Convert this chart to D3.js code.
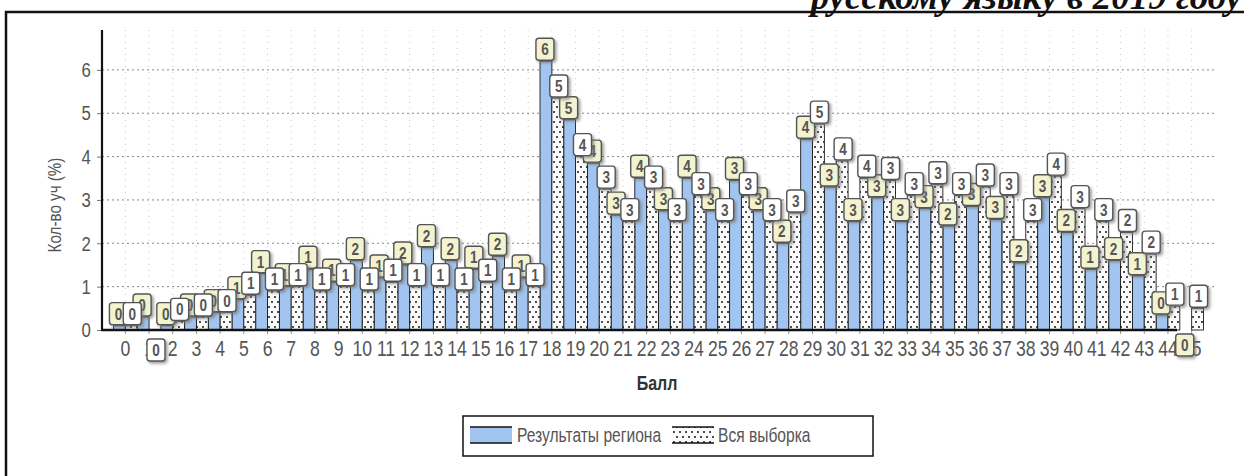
<!DOCTYPE html>
<html><head><meta charset="utf-8">
<script src="https://cdn.jsdelivr.net/npm/d3@7/dist/d3.min.js"></script>
<style>
html,body{margin:0;padding:0;background:#fff;overflow:hidden}
svg{display:block}
text{font-family:"Liberation Sans",Arial,sans-serif}
</style></head><body>
<svg id="chart" width="1244" height="476"></svg>
<script>
// ---- data ----
const categories = [0,1,2,3,4,5,6,7,8,9,10,11,12,13,14,15,16,17,18,19,20,21,22,23,24,25,26,27,28,29,30,31,32,33,34,35,36,37,38,39,40,41,42,43,44,45];
const regionValues = [0.1,0.3,0.1,0.3,0.4,0.7,1.3,1.0,1.4,1.1,1.6,1.2,1.5,1.9,1.6,1.4,1.7,1.2,
  6.2,4.85,3.85,2.65,3.5,2.75,3.5,2.75,3.45,2.75,2.0,4.4,3.3,2.5,3.05,2.5,2.8,2.4,2.85,2.55,1.55,3.05,2.25,1.4,1.6,1.25,0.35,0];
const sampleValues = [0.1,0,0.2,0.3,0.4,0.8,0.9,1.0,0.9,1.0,0.9,1.1,1.0,1.0,0.9,1.1,0.9,1.0,
  5.35,4.0,3.25,2.5,3.25,2.5,3.1,2.5,3.1,2.5,2.7,4.75,3.9,3.5,3.45,3.1,3.35,3.1,3.3,3.1,2.5,3.55,2.8,2.5,2.25,1.75,0.55,0.5];
const seriesNames = ["Результаты региона","Вся выборка"];
const yTicks = [0,1,2,3,4,5,6];
const xTitle = "Балл";
const yTitle = "Кол-во уч (%)";
const headerText = "русскому языку в 2019 году";

// ---- setup ----
const svg = d3.select("#chart");
const defs = svg.append("defs");
const pat = defs.append("pattern").attr("id","dots").attr("patternUnits","userSpaceOnUse")
  .attr("width",6).attr("height",10);
pat.append("rect").attr("width",6).attr("height",10).attr("fill","#fbfbfb");
pat.append("circle").attr("cx",2).attr("cy",2).attr("r",1).attr("fill","#111");
pat.append("circle").attr("cx",5).attr("cy",7).attr("r",1).attr("fill","#111");
const f = defs.append("filter").attr("id","shadow").attr("x","-30%").attr("y","-30%").attr("width","170%").attr("height","170%");
f.append("feDropShadow").attr("dx",2).attr("dy",2).attr("stdDeviation",1.4).attr("flood-color","#777").attr("flood-opacity",0.7);

const blue = "#a1c5f0";
const NARROW = 0.8;
const x = d3.scaleBand().domain(categories).range([113.5,1203.5]).paddingInner(0).paddingOuter(0);
const xs = d3.scaleBand().domain([0,1]).range([0,x.bandwidth()]);
const y = d3.scaleLinear().domain([0,6.92]).range([330,30]);

// frame and header
svg.append("path").attr("d","M6,476 V12 H1244").attr("fill","none").attr("stroke","#111").attr("stroke-width",2.5);
svg.append("text").attr("x",1242).attr("y",9).attr("text-anchor","end")
  .style("font-family","'Liberation Serif','Times New Roman',serif").style("font-style","italic")
  .style("font-weight","bold").style("font-size","37px").attr("fill","#111").text(headerText);

// grid
svg.append("g").selectAll("line").data(categories).join("line")
  .attr("x1",d=>x(d)+x.bandwidth()/2).attr("x2",d=>x(d)+x.bandwidth()/2)
  .attr("y1",30).attr("y2",330).attr("stroke","#c8c8c8").attr("stroke-dasharray","1,5");
svg.append("g").selectAll("line").data(yTicks.filter(d=>d>0)).join("line")
  .attr("x1",102).attr("x2",1215).attr("y1",d=>y(d)).attr("y2",d=>y(d))
  .attr("stroke","#888").attr("stroke-dasharray","2,3");

// axes
const gy = svg.append("g").attr("transform","translate(102,0)")
  .call(d3.axisLeft(y).tickValues(yTicks).tickSize(5).tickPadding(9).tickFormat(d3.format("d")));
gy.select(".domain").remove();
gy.selectAll(".tick line").attr("stroke","#777");
gy.selectAll(".tick text").attr("fill","#555").style("font-size","21px")
  .attr("transform",`scale(${NARROW},1)`);

const gx = svg.append("g").attr("transform","translate(0,330)")
  .call(d3.axisBottom(x).tickSize(4).tickPadding(6));
gx.select(".domain").remove();
gx.selectAll(".tick line").attr("stroke","#999");
gx.selectAll(".tick text").attr("fill","#555").style("font-size","22px")
  .attr("transform",`scale(${NARROW},1)`);

// bars
const series = [regionValues, sampleValues];
series.forEach((vals,si)=>{
  svg.append("g").selectAll("rect").data(categories).join("rect")
    .attr("x",(d,i)=>x(d)+xs(si)).attr("width",xs.bandwidth())
    .attr("y",(d,i)=>y(vals[i])).attr("height",(d,i)=>y(0)-y(vals[i]))
    .attr("fill", si===0 ? blue : "url(#dots)")
    .attr("stroke","#1a1a1a").attr("stroke-width",0.9);
});

svg.append("line").attr("x1",102).attr("x2",102).attr("y1",30).attr("y2",331).attr("stroke","#111").attr("stroke-width",2.2);
svg.append("line").attr("x1",101).attr("x2",1177).attr("y1",330).attr("y2",330).attr("stroke","#111").attr("stroke-width",2.6);

// data labels
const bw = 18, bh = 22;
series.forEach((vals,si)=>{
  const g = svg.append("g");
  const lab = g.selectAll("g").data(categories).join("g")
    .attr("transform",(d,i)=>{
      const cx = x(d)+xs(si)+xs.bandwidth()/2 + (si===0?-1:1);
      const top = vals[i] === 0 ? 334 + si*5 : y(vals[i]) - bh - 1;
      return `translate(${cx-bw/2},${top})`;
    });
  lab.append("rect").attr("width",bw).attr("height",bh).attr("rx",3)
    .attr("fill", si===0 ? "#f3f3cf" : "#ffffff").attr("stroke","#555").attr("stroke-width",1.4)
    .attr("filter","url(#shadow)");
  lab.append("text").attr("transform",`translate(${bw/2},17) scale(${NARROW},1)`).attr("text-anchor","middle")
    .attr("fill","#555").style("font-size","17px").style("font-weight","bold")
    .text((d,i)=>Math.round(vals[i]));
});

// titles
svg.append("text").attr("transform",`translate(657,390) scale(${NARROW},1)`).attr("text-anchor","middle")
  .attr("fill","#333").style("font-size","20px").style("font-weight","bold").text(xTitle);
svg.append("text").attr("transform",`translate(61,205) rotate(-90) scale(${NARROW},1)`).attr("text-anchor","middle")
  .attr("fill","#555").style("font-size","19px").text(yTitle);

// legend
const lg = svg.append("g");
lg.append("rect").attr("x",463).attr("y",416).attr("width",410).attr("height",40)
  .attr("fill","#fff").attr("stroke","#111").attr("stroke-width",1.5);
const items = [{x:470, fill:blue, tx:517},{x:672, fill:"url(#dots)", tx:718}];
items.forEach((it,k)=>{
  lg.append("rect").attr("x",it.x).attr("y",427).attr("width",42).attr("height",16).attr("fill",it.fill);
  lg.append("line").attr("x1",it.x).attr("x2",it.x+42).attr("y1",427).attr("y2",427).attr("stroke","#111").attr("stroke-width",1.5);
  lg.append("line").attr("x1",it.x).attr("x2",it.x+42).attr("y1",443).attr("y2",443).attr("stroke","#111").attr("stroke-width",1.5);
  lg.append("text").attr("transform",`translate(${it.tx},442) scale(${NARROW},1)`).attr("fill","#555")
    .style("font-size","19.5px").text(seriesNames[k]);
});
</script>
</body></html>
